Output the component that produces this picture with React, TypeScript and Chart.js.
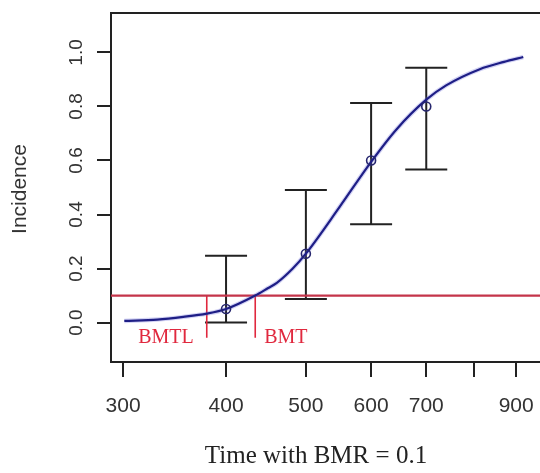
import React, { useEffect, useRef } from 'react';
import { Chart, registerables } from 'chart.js';

Chart.register(...registerables);

// fitted curve
const curveX = [301, 330, 355, 379, 400, 434, 450, 461, 482, 500, 550, 600, 644, 700, 740, 813, 870, 918];
const curveY = [0.006, 0.011, 0.021, 0.033, 0.05, 0.1, 0.128, 0.147, 0.2, 0.255, 0.43, 0.595, 0.715, 0.825, 0.878, 0.938, 0.965, 0.983];

// observed incidence with confidence limits
const obsX = [400, 500, 600, 700];
const obsY = [0.05, 0.255, 0.6, 0.8];
const obsLower = [0.0, 0.087, 0.364, 0.567];
const obsUpper = [0.247, 0.491, 0.813, 0.943];

const xTicks = [300, 400, 500, 600, 700, 800, 900];
const xTickLabels = ['300', '400', '500', '600', '700', '', '900'];
const yTicks = [0, 0.2, 0.4, 0.6, 0.8, 1.0];
const yTickLabels = ['0.0', '0.2', '0.4', '0.6', '0.8', '1.0'];

const bmr = 0.1;
const bmtl = 379;
const bmt = 434;
const markerBottom = -0.056;
const markerLabelY = -0.0775;

const xMin = 290;
const xMax = 962;
const yMin = -0.146;
const yMax = 1.146;

const xTitle = 'Time with BMR = 0.1';
const yTitle = 'Incidence';

const INK = '#222222';
const RED_LINE = '#c4344a';
const RED_TEXT = '#e0283e';

export default function App() {
  const ref = useRef<HTMLCanvasElement | null>(null);

  useEffect(() => {
    const canvas = ref.current;
    if (!canvas) return;

    const errorBars = {
      id: 'errorBars',
      beforeDatasetsDraw(chart: any) {
        const { ctx, scales } = chart;
        const xs = scales.x;
        const ys = scales.y;
        ctx.save();
        ctx.strokeStyle = INK;
        ctx.lineWidth = 2;
        const half = 21;
        for (let i = 0; i < obsX.length; i++) {
          const px = xs.getPixelForValue(obsX[i]);
          const pl = ys.getPixelForValue(obsLower[i]);
          const pu = ys.getPixelForValue(obsUpper[i]);
          ctx.beginPath();
          ctx.moveTo(px, pl);
          ctx.lineTo(px, pu);
          ctx.moveTo(px - half, pl);
          ctx.lineTo(px + half, pl);
          ctx.moveTo(px - half, pu);
          ctx.lineTo(px + half, pu);
          ctx.stroke();
        }
        ctx.restore();
      },
    };

    const decorations = {
      id: 'decorations',
      afterDraw(chart: any) {
        const { ctx, scales, chartArea } = chart;
        const xs = scales.x;
        const ys = scales.y;
        ctx.save();
        // top border of box
        ctx.strokeStyle = INK;
        ctx.lineWidth = 2;
        ctx.beginPath();
        ctx.moveTo(chartArea.left - 1, chartArea.top);
        ctx.lineTo(chartArea.right, chartArea.top);
        ctx.stroke();

        // x tick labels
        ctx.fillStyle = '#333333';
        ctx.font = '21px "Liberation Sans", Arial, sans-serif';
        ctx.textAlign = 'center';
        ctx.textBaseline = 'alphabetic';
        for (let i = 0; i < xTicks.length; i++) {
          if (!xTickLabels[i]) continue;
          ctx.fillText(xTickLabels[i], xs.getPixelForValue(xTicks[i]), 411.5);
        }

        // y tick labels rotated
        ctx.font = '19px "Liberation Sans", Arial, sans-serif';
        for (let i = 0; i < yTicks.length; i++) {
          const py = ys.getPixelForValue(yTicks[i]);
          ctx.save();
          ctx.translate(82, py);
          ctx.rotate(-Math.PI / 2);
          ctx.fillText(yTickLabels[i], 0, 0);
          ctx.restore();
        }

        // y title
        ctx.font = '21px "Liberation Sans", Arial, sans-serif';
        ctx.save();
        ctx.translate(26, 189);
        ctx.rotate(-Math.PI / 2);
        ctx.fillText(yTitle, 0, 0);
        ctx.restore();

        // x title
        ctx.fillStyle = '#222222';
        ctx.font = '25px "Liberation Serif", "Times New Roman", serif';
        ctx.fillText(xTitle, 316, 463);

        // BMTL / BMT labels
        ctx.fillStyle = RED_TEXT;
        ctx.font = '20px "Liberation Serif", "Times New Roman", serif';
        const ly = ys.getPixelForValue(markerLabelY);
        ctx.textAlign = 'right';
        ctx.fillText('BMTL', xs.getPixelForValue(bmtl) - 13, ly);
        ctx.textAlign = 'left';
        ctx.fillText('BMT', xs.getPixelForValue(bmt) + 9, ly);
        ctx.restore();
      },
    };

    const curvePts = curveX.map((x, i) => ({ x, y: curveY[i] }));

    const chart = new Chart(canvas, {
      type: 'scatter',
      data: {
        datasets: [
          {
            label: 'observed',
            data: obsX.map((x, i) => ({ x, y: obsY[i] })),
            showLine: false,
            pointRadius: 4.5,
            pointBorderWidth: 1.6,
            pointBorderColor: '#26266e',
            pointBackgroundColor: 'rgba(0,0,0,0)',
            order: 1,
          } as any,
          {
            label: 'fit',
            data: curvePts,
            showLine: true,
            borderColor: '#1e1e86',
            borderWidth: 2.2,
            pointRadius: 0,
            cubicInterpolationMode: 'monotone',
            order: 2,
          } as any,
          {
            label: 'fit halo',
            data: curvePts,
            showLine: true,
            borderColor: 'rgba(110,110,220,0.3)',
            borderWidth: 4.5,
            pointRadius: 0,
            cubicInterpolationMode: 'monotone',
            order: 3,
          } as any,
          {
            label: 'BMR',
            data: [
              { x: xMin, y: bmr },
              { x: xMax, y: bmr },
            ],
            showLine: true,
            borderColor: RED_LINE,
            borderWidth: 2.2,
            pointRadius: 0,
            order: 4,
          } as any,
          {
            label: 'BMTL',
            data: [
              { x: bmtl, y: bmr },
              { x: bmtl, y: markerBottom },
            ],
            showLine: true,
            borderColor: RED_TEXT,
            borderWidth: 1.6,
            pointRadius: 0,
            order: 4,
          } as any,
          {
            label: 'BMT',
            data: [
              { x: bmt, y: bmr },
              { x: bmt, y: markerBottom },
            ],
            showLine: true,
            borderColor: RED_TEXT,
            borderWidth: 1.6,
            pointRadius: 0,
            order: 4,
          } as any,
        ],
      },
      options: {
        responsive: false,
        animation: false,
        devicePixelRatio: 1,
        layout: { autoPadding: false, padding: { top: 13, right: 0, left: 0, bottom: 0 } },
        plugins: { legend: { display: false }, tooltip: { enabled: false } },
        scales: {
          x: {
            type: 'logarithmic',
            min: xMin,
            max: xMax,
            afterBuildTicks: (scale: any) => {
              scale.ticks = xTicks.map((v) => ({ value: v }));
            },
            afterFit: (scale: any) => {
              scale.height = 111;
              scale.paddingLeft = 0;
              scale.paddingRight = 0;
            },
            grid: {
              display: true,
              drawOnChartArea: false,
              drawTicks: true,
              tickLength: 15,
              color: INK,
              lineWidth: 2,
            },
            border: { display: true, color: INK, width: 2 },
            ticks: { display: false },
          },
          y: {
            type: 'linear',
            min: yMin,
            max: yMax,
            afterBuildTicks: (scale: any) => {
              scale.ticks = yTicks.map((v) => ({ value: v }));
            },
            afterFit: (scale: any) => {
              scale.width = 111;
              scale.paddingTop = 0;
              scale.paddingBottom = 0;
            },
            grid: {
              display: true,
              drawOnChartArea: false,
              drawTicks: true,
              tickLength: 14,
              color: INK,
              lineWidth: 2,
            },
            border: { display: true, color: INK, width: 2 },
            ticks: { display: false },
          },
        },
      } as any,
      plugins: [errorBars, decorations],
    });

    return () => chart.destroy();
  }, []);

  return (
    <div style={{ position: 'fixed', left: 0, top: 0, width: 540, height: 473, background: '#fff' }}>
      <canvas ref={ref} width={540} height={473} style={{ display: 'block' }} />
    </div>
  );
}
